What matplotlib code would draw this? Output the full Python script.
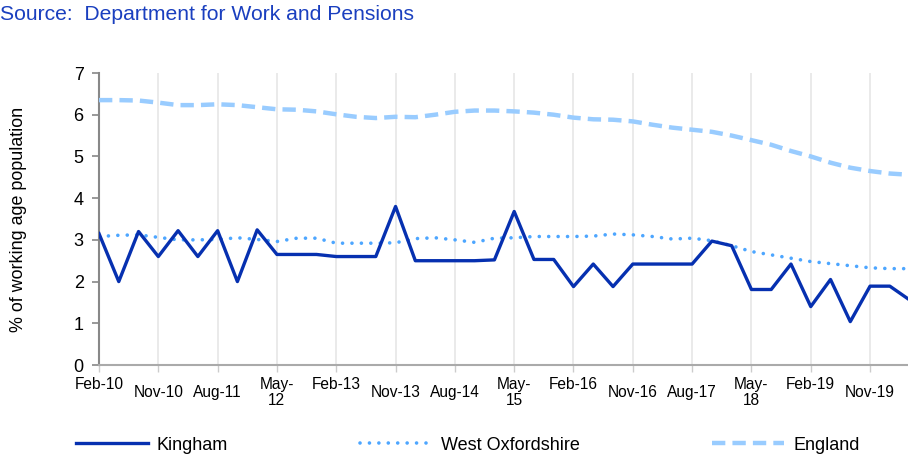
import matplotlib
matplotlib.use("Agg")
import matplotlib.pyplot as plt
import matplotlib.transforms as mtransforms
import numpy as np

plt.rcParams['font.family'] = ['Liberation Sans', 'DejaVu Sans']

# quarterly values, Feb-10 .. May-20 (% of working age population)
kingham = [3.15, 2.0, 3.2, 2.6, 3.22, 2.6, 3.22, 2.0, 3.24, 2.65, 2.65, 2.65,
           2.6, 2.6, 2.6, 3.8, 2.5, 2.5, 2.5, 2.5, 2.52, 3.68, 2.53, 2.53,
           1.88, 2.42, 1.88, 2.42, 2.42, 2.42, 2.42, 2.97, 2.86, 1.81, 1.81,
           2.42, 1.40, 2.05, 1.04, 1.89, 1.89, 1.56]
west_oxon = [3.08, 3.11, 3.12, 3.06, 3.0, 3.0, 3.01, 3.05, 3.01, 2.96, 3.04, 3.04,
             2.92, 2.92, 2.92, 2.93, 3.03, 3.05, 3.0, 2.94, 3.04, 3.05, 3.08, 3.08,
             3.08, 3.09, 3.14, 3.12, 3.08, 3.02, 3.04, 2.98, 2.86, 2.72, 2.64,
             2.56, 2.48, 2.43, 2.38, 2.33, 2.31, 2.31]
england = [6.35, 6.35, 6.34, 6.29, 6.23, 6.23, 6.25, 6.23, 6.18, 6.13, 6.12, 6.08,
           6.01, 5.95, 5.92, 5.95, 5.94, 6.0, 6.07, 6.1, 6.1, 6.08, 6.05, 6.0,
           5.93, 5.89, 5.88, 5.84, 5.76, 5.69, 5.64, 5.59, 5.5, 5.39, 5.28,
           5.13, 5.0, 4.85, 4.73, 4.65, 4.59, 4.56]
tick_labels = ["Feb-10", "Nov-10", "Aug-11", "May-\n12", "Feb-13", "Nov-13", "Aug-14",
               "May-\n15", "Feb-16", "Nov-16", "Aug-17", "May-\n18", "Feb-19", "Nov-19"]

x = np.arange(len(kingham))
tick_pos = np.arange(len(tick_labels)) * 3

fig = plt.figure(figsize=(9.08, 4.58), dpi=100)
ax = fig.add_axes([99 / 908, 93 / 458, 810.6 / 908, 292 / 458])

l_eng, = ax.plot(x, england, color='#99ccff', lw=3.2, ls=(0, (3, 1.6)),
                 label='England', zorder=3)
l_wo, = ax.plot(x, west_oxon, color='#4da6ff', lw=2.6, ls=(0, (0.01, 2.6)),
                dash_capstyle='round', label='West Oxfordshire', zorder=3)
l_k, = ax.plot(x, kingham, color='#0630b0', lw=2.4, label='Kingham', zorder=4)

ax.set_xlim(0, 41)
ax.set_ylim(0, 7)
ax.set_yticks(range(8))
ax.tick_params(axis='y', labelsize=13, length=5, width=1.2, color='#888888', pad=6)
ax.set_xticks(tick_pos)
ax.set_xticklabels([])
ax.tick_params(axis='x', length=5, width=1, color='#cccccc')
ax.grid(axis='x', color='#e8e8e8', lw=1.3)
ax.set_axisbelow(True)
for s in ['top', 'right']:
    ax.spines[s].set_visible(False)
ax.spines['left'].set_color('#888888')
ax.spines['left'].set_linewidth(1.5)
ax.spines['bottom'].set_color('#aaaaaa')
ax.spines['bottom'].set_linewidth(1.5)

# staggered x labels, as in the original
trans = mtransforms.blended_transform_factory(ax.transData, ax.transAxes)
for pos, lab in zip(tick_pos, tick_labels):
    lowered = lab.startswith('Nov') or lab.startswith('Aug')
    off = -20 if lowered else -12
    ax.text(pos, 0, lab, transform=trans + mtransforms.ScaledTranslation(0, off / 100, fig.dpi_scale_trans),
            ha='center', va='top', fontsize=11.2, linespacing=1.05)

ax.set_ylabel('% of working age population', fontsize=12.9)
ax.yaxis.set_label_coords(-(99 - 27) / 810.6, 0.5)

fig.text(0.0, 1 - 14 / 458, 'Source:  Department for Work and Pensions', color='#1a3fbf',
         fontsize=15.2, ha='left', va='center')

fig.legend(handles=[l_k, l_wo, l_eng], loc='center', bbox_to_anchor=(0.515, 1 - 445 / 458),
           ncol=3, frameon=False, fontsize=13, handlelength=4.0, handletextpad=0.5,
           columnspacing=7.3)

fig.savefig('out.png', dpi=100)
